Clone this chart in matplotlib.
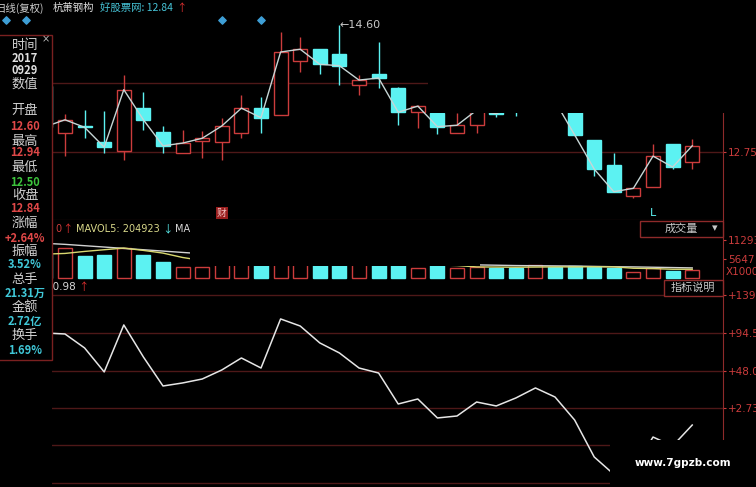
import numpy as np
import matplotlib
matplotlib.use("Agg")
import matplotlib.pyplot as plt
from matplotlib.patches import Rectangle
from matplotlib import transforms

plt.rcParams['font.family'] = ['Noto Sans CJK SC', 'DejaVu Sans']

# daily bars, first one sits behind the info panel
open_ = [13.72, 13.03, 13.13, 12.90, 12.77, 13.39, 13.04, 12.74, 12.91, 12.90, 13.03, 13.39, 13.29, 14.08, 14.25, 14.18, 13.73,
         13.89, 13.68, 13.33, 13.32, 13.03, 13.14, 13.45, 13.47, 13.42, 13.58, 13.45, 12.93, 12.56, 12.11, 12.24, 12.87, 12.60]
high = [13.75, 13.30, 13.36, 13.35, 13.87, 13.63, 13.13, 13.07, 13.06, 13.25, 13.58, 13.55, 14.50, 14.43, 14.25, 14.60, 13.87,
        14.36, 13.70, 13.44, 13.32, 13.32, 13.45, 13.52, 13.50, 13.66, 13.62, 13.50, 12.93, 12.74, 12.22, 12.87, 12.87, 12.94]
low = [13.05, 12.69, 12.95, 12.74, 12.63, 13.07, 12.74, 12.74, 12.66, 12.63, 12.95, 13.03, 13.29, 13.92, 13.89, 13.73, 13.58,
       13.68, 13.14, 13.10, 13.01, 13.03, 13.03, 13.26, 13.28, 13.40, 13.45, 12.98, 12.40, 12.17, 12.08, 12.24, 12.50, 12.50]
close = [13.12, 13.22, 13.11, 12.82, 13.66, 13.22, 12.84, 12.88, 12.95, 13.13, 13.39, 13.25, 14.21, 14.25, 14.03, 14.01, 13.80,
         13.83, 13.33, 13.42, 13.12, 13.14, 13.36, 13.31, 13.42, 13.60, 13.49, 13.00, 12.50, 12.17, 12.22, 12.69, 12.53, 12.84]
volume = [7000, 8916, 6538, 6836, 8916, 6836, 4755, 3269, 3269, 4755, 5350, 4755, 5944, 5350, 4755, 5944, 4458,
          4458, 4755, 2972, 4161, 2972, 3269, 2972, 2972, 3864, 3269, 3566, 3269, 2972, 1783, 2972, 2080, 2378]
mavol5 = [7100, 7300, 7900, 8400, 8900, 8200, 7400, 6100, 5200, 4600, 4300, 4200, 4700, 5100, 5200, 5250, 5050,
          4800, 4700, 4100, 3900, 3700, 3300, 3250, 3200, 3250, 3300, 3300, 3350, 3300, 2900, 2800, 2600, 2600]
mavol10 = [10300, 10000, 9600, 9200, 8800, 8400, 8000, 7600, 7200, 6700, 6200, 5800, 5500, 5300, 5000, 4900, 4800,
           4700, 4600, 4500, 4300, 4100, 3900, 3800, 3700, 3650, 3600, 3550, 3450, 3350, 3300, 3200, 3100, 3000]
indic = [94.0, 92.8, 75.8, 46.6, 103.8, 64.8, 29.5, 33.2, 38.0, 49.0, 63.6, 51.4, 111.1, 102.5, 81.9, 69.7, 51.4,
         45.3, 7.6, 13.7, -9.4, -7.0, 10.0, 5.2, 14.9, 27.1, 16.1, -11.9, -56.9, -78.0, -72.7, -32.6, -43.5, -18.0]

price_ticks = [12.75, 13.76]
price_labels = ['12.75', '13.76']
vol_ticks = [5647, 11293]
vol_labels = ['5647', '11293']
ind_ticks = [139.9, 94.50, 48.08, 2.73, -42.62, -87.97]
ind_labels = ['+139.9', '+94.50', '+48.08', '+2.73', '-42.62', '-87.97']
signal_days = [-3, -2, 8, 10]

panel_rows = [('时间', '#d0d0d0'), ('2017', '#e0e0e0'), ('0929', '#e0e0e0'), ('数值', '#d0d0d0'),
              ('开盘', '#d0d0d0'), ('12.60', '#e04848'), ('最高', '#d0d0d0'), ('12.94', '#e04848'),
              ('最低', '#d0d0d0'), ('12.50', '#3cc43c'), ('收盘', '#d0d0d0'), ('12.84', '#e04848'),
              ('涨幅', '#d0d0d0'), ('+2.64%', '#e04848'), ('振幅', '#d0d0d0'), ('3.52%', '#40c8d8'),
              ('总手', '#d0d0d0'), ('21.31万', '#40c8d8'), ('金额', '#d0d0d0'), ('2.72亿', '#40c8d8'),
              ('换手', '#d0d0d0'), ('1.69%', '#40c8d8')]
panel_y = [46, 59, 71, 84, 110, 126, 141, 153, 167, 182, 195, 209, 223, 238, 251, 265, 279, 293, 307, 321, 335, 350]

W, H = 756, 487
RED = '#cc3c3c'
CYAN = '#5cf2f2'
GRID = '#4e1818'
AXIS = '#8e2a2a'

idx = np.arange(len(close)) - 1
open_ = np.array(open_)
close = np.array(close)
up = close >= open_
colors = np.where(up, RED, CYAN)
faces = np.where(up, 'black', CYAN)
body_lo = np.minimum(open_, close)
body_hi = np.maximum(open_, close)

fig = plt.figure(figsize=(W / 100, H / 100), dpi=100, facecolor='black')


def t(x, y, s, **kw):
    kw.setdefault('va', 'center')
    return fig.text(x / W, 1 - y / H, s, **kw)


def cover(x0, y0, x1, y1, **kw):
    r = Rectangle((x0 / W, 1 - y1 / H), (x1 - x0) / W, (y1 - y0) / H, transform=fig.transFigure,
                  facecolor='black', edgecolor=kw.pop('edgecolor', 'none'), zorder=kw.pop('zorder', 3.5), **kw)
    fig.add_artist(r)
    return r


def pane(top, bottom):
    ax = fig.add_axes([52 / W, 1 - bottom / H, 671 / W, (bottom - top) / H])
    ax.set_facecolor('black')
    for s in ax.spines.values():
        s.set_visible(False)
    ax.spines['right'].set_visible(True)
    ax.spines['right'].set_color(AXIS)
    ax.set_xlim(-0.663, 33.57)
    ax.set_xticks([])
    ax.yaxis.tick_right()
    ax.tick_params(axis='y', colors=RED, length=2.5, width=0.8, labelsize=7.5, pad=1,
                   labelfontfamily='DejaVu Sans')
    return ax


# price pane
ax_p = pane(20, 220)
ax_p.set_ylim(11.757, 14.677)
ax_p.spines['bottom'].set_visible(True)
ax_p.spines['bottom'].set_color(AXIS)
for g in price_ticks:
    ax_p.axhline(g, color=GRID, lw=1, zorder=0)
ax_p.set_yticks(price_ticks, price_labels)
ax_p.vlines(idx, low, body_lo, colors=colors, lw=1)
ax_p.vlines(idx, body_hi, high, colors=colors, lw=1)
ax_p.bar(idx, body_hi - body_lo, bottom=body_lo, width=0.72, color=faces, edgecolor=colors, linewidth=1)
ax_p.plot(idx, close, color='#c6d6d6', lw=1)
top_i = int(np.argmax(high))
ax_p.annotate('←' + f'{high[top_i]:.2f}', xy=(idx[top_i], high[top_i]), xytext=(0, 0),
              textcoords='offset points', color='#c8c8c8', fontsize=8, va='center', family='DejaVu Sans')
bx = transforms.blended_transform_factory(ax_p.transData, ax_p.transAxes)
ax_p.scatter(signal_days, [1.0] * len(signal_days), marker='D', s=14, color='#3e9fd6', transform=bx, clip_on=False)
ax_p.text(8, 0.035, '财', transform=bx, ha='center', va='center', fontsize=7, color='#f0c0c0',
          bbox=dict(boxstyle='square,pad=0.1', facecolor='#9a1e1e', edgecolor='none'))
ax_p.text(30, 0.035, 'L', transform=bx, ha='center', va='center', fontsize=8, color=CYAN, family='DejaVu Sans')

# volume pane
ax_v = pane(220, 280)
ax_v.set_ylim(-594, 17238)
ax_v.bar(idx, volume, width=0.72, color=faces, edgecolor=colors, linewidth=1)
ax_v.plot(idx, mavol10, color='#d2d2d2', lw=1)
ax_v.plot(idx, mavol5, color='#d8d870', lw=1)
ax_v.set_yticks(vol_ticks, vol_labels)
bv = transforms.blended_transform_factory(ax_v.transAxes, ax_v.transData)
ax_v.text(1.004, 1783, 'X1000', transform=bv, color=RED, fontsize=7.5, va='center', family='DejaVu Sans')

# indicator pane
ax_i = pane(280, 487)
ax_i.set_ylim(-93.43, 158.5)
for g in ind_ticks:
    ax_i.axhline(g, color=GRID, lw=1, zorder=0)
ax_i.plot(idx, indic, color='#e6e6e6', lw=1.1)
ax_i.set_yticks(ind_ticks, ind_labels)

# header line
t(-5, 8, '日线(复权)', color='#cfcfcf', size=7.5)
t(53, 8, '杭萧钢构', color='#e0e0e0', size=7.5)
t(100, 8, '好股票网: 12.84', color='#46c3d6', size=7.5)
t(176, 8, '↑', color='#e03030', size=7.5)

# pane titles
t(61, 229, '0', color=RED, size=7, ha='right', family='DejaVu Sans')
t(62, 229, '↑', color='#e03030', size=7.5)
t(76, 229, 'MAVOL5: 204923', color='#d8d88a', size=7, family='DejaVu Sans')
t(162, 229, '↓', color=CYAN, size=7.5)
t(175, 229, 'MAVOL10: 264507', color='#d8d8d8', size=7, family='DejaVu Sans')
t(76, 287, '20.98', color='#d8d8d8', size=7.5, ha='right', family='DejaVu Sans')
t(78, 287, '↑', color='#e03030', size=7.5)

# boxes on the right
cover(640, 220.5, 723, 237, edgecolor=AXIS, lw=1, zorder=3)
t(681, 229, '成交量', color='#c8c8c8', size=8, ha='center', zorder=4)
t(715, 228, '▾', color='#c8c8c8', size=8, ha='center', family='DejaVu Sans', zorder=4)
cover(664, 280, 723, 296, edgecolor=AXIS, lw=1, zorder=3)
t(693, 288, '指标说明', color='#c8c8c8', size=8, ha='center', zorder=4)

# blacked-out areas of the screenshot
cover(428, 16, 756, 113)
cover(190, 221, 480, 265.5)
cover(610, 440, 756, 487)
t(683, 463, 'www.7gpzb.com', color='white', size=7.5, weight='bold', ha='center', family='DejaVu Sans', zorder=4)

# info panel on the left
cover(-2, 35, 51.5, 360, edgecolor='#7a2020', lw=1)
t(46, 39, '×', color='#bbbbbb', size=7, ha='center', family='DejaVu Sans', zorder=4)
for (s, c), y in zip(panel_rows, panel_y):
    cjk = not any(ch.isdigit() for ch in s)
    t(25, y, s, color=c, ha='center', zorder=4, size=9.5 if cjk else 8,
      weight='normal' if cjk else 'bold')

fig.savefig('out.png', dpi=100, facecolor='black')
